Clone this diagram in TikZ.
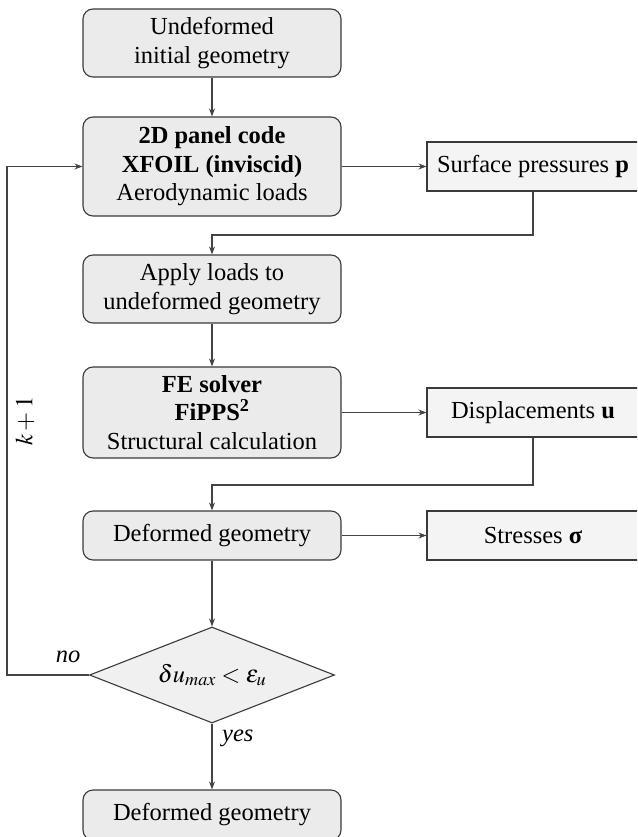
\documentclass[tikz,border=0pt]{standalone}
\usepackage{mathptmx}
\usepackage[no-math]{fontspec}
\setmainfont{Liberation Serif}
\usetikzlibrary{arrows.meta,shapes.geometric}
\definecolor{bordc}{HTML}{3A3A3A}
\definecolor{linec}{HTML}{444444}
\definecolor{mainfill}{HTML}{EBEBEB}
\definecolor{sidefill}{HTML}{F4F4F4}
\definecolor{diafill}{HTML}{F0F0F0}
\begin{document}
\begin{tikzpicture}[x=1pt,y=-1pt,
  txt/.style={font=\fontsize{24.5}{28.5}\selectfont},
  mainbox/.style={txt,draw=bordc,fill=mainfill,rounded corners=10pt,line width=1.1pt,
    minimum width=258pt,align=center,inner sep=0pt},
  sidebox/.style={txt,draw=bordc,fill=sidefill,line width=1.1pt,
    minimum width=212pt,minimum height=49pt,align=center,inner sep=0pt},
  decision/.style={txt,diamond,draw=bordc,fill=diafill,line width=1.1pt,aspect=2.55,
    minimum width=245pt,minimum height=96pt,inner sep=0pt},
  arr/.style={draw=linec,line width=1.1pt,-{Stealth[length=8pt,width=6pt]}},
  lbl/.style={txt,font=\fontsize{24.5}{28.5}\selectfont\itshape,inner sep=0pt}]
\useasboundingbox (0,0) rectangle (637,837);
\clip (0,0) rectangle (637,837);

\node[mainbox,minimum height=68pt] (b1) at (212,43) {Undeformed\\initial geometry};
\node[mainbox,minimum height=99pt] (b2) at (212,166.5) {\textbf{2D panel code}\\\textbf{XFOIL (inviscid)}\\Aerodynamic loads};
\node[sidebox] (surf) at (533,166.5) {Surface pressures \textbf{p}};
\coordinate (j1) at (212,235);
\node[mainbox,minimum height=68pt] (b3) at (212,289) {Apply loads to\\undeformed geometry};
\node[mainbox,minimum height=91pt] (b4) at (212,412.5) {\textbf{FE solver}\\\textbf{FiPPS\textsuperscript{2}}\\Structural calculation};
\node[sidebox] (disp) at (533,412.5) {Displacements \textbf{u}};
\coordinate (j2) at (212,485);
\node[mainbox,minimum height=49pt] (b5) at (212,535.5) {Deformed geometry};
\node[sidebox] (str) at (533,535.5) {Stresses \textbf{σ}};
\node[decision] (dia) at (212,675) {$\delta u_{max} < \varepsilon_{u}$};
\node[mainbox,minimum height=50pt] (fin) at (212,815) {Deformed geometry};
\coordinate (c1) at (7,675);

\draw[arr] (b1) -- (b2);
\draw[arr] (b2) -- (surf);
\draw[arr] (surf.south) |- (j1) -- (b3.north);
\draw[arr] (b3) -- (b4);
\draw[arr] (b4) -- (disp);
\draw[arr] (disp.south) |- (j2) -- (b5.north);
\draw[arr] (b5) -- (str);
\draw[arr] (b5) -- (dia);
\draw[arr] (dia) -- (fin);
\draw[arr] (dia.west) -- (c1) |- (b2.west);

\node[lbl,anchor=base] (no) at (68,662) {no};
\node[lbl,anchor=base west] (yes) at (222,741) {yes};
\node[txt,rotate=90,inner sep=0pt] (k) at (25,421) {$k+1$};
\end{tikzpicture}
\end{document}
